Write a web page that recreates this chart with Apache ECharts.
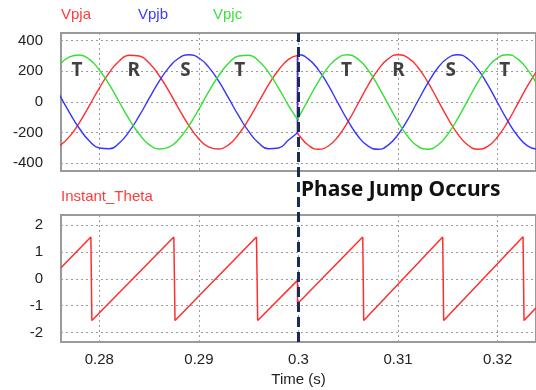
<!DOCTYPE html>
<html><head><meta charset="utf-8">
<script src="https://cdn.jsdelivr.net/npm/echarts@6/dist/echarts.min.js"></script>
<style>html,body{margin:0;padding:0;background:#fff}#c{width:536px;height:390px}</style>
</head><body><div id="c"></div>
<script>
// ---- data ----
const timesBefore = [0.276,0.277,0.278,0.279,0.280,0.281,0.282,0.283,0.284,0.285,0.286,0.287,0.288,0.289,0.290,0.291,0.292,0.293,0.294,0.295,0.296,0.297,0.298,0.299,0.2999];
const vpjaBefore = [-287,-226,-134,-23,91,192,267,305,300,254,173,69,-46,-154,-241,-294,-307,-278,-209,-113,0,113,209,278,304];
const vpjbBefore = [46,-69,-173,-254,-300,-305,-267,-192,-91,23,134,226,287,308,287,226,134,23,-91,-192,-267,-305,-300,-248,-200];
const vpjcBefore = [241,294,307,278,209,113,0,-113,-209,-278,-307,-294,-241,-154,-46,69,173,254,300,305,267,192,91,-23,-113];

const timesAfter = [0.2999,0.300,0.301,0.302,0.303,0.304,0.305,0.306,0.307,0.308,0.309,0.310,0.311,0.312,0.313,0.314,0.315,0.316,0.317,0.318,0.319,0.320,0.321,0.322,0.323,0.324];
const vpjaAfter = [-205,-214,-282,-308,-287,-223,-125,-8,110,211,281,308,288,225,128,11,-107,-209,-280,-308,-289,-227,-130,-14,105,207];
const vpjbAfter = [308,308,280,210,108,-11,-127,-225,-288,-308,-281,-212,-111,8,124,223,287,308,282,214,113,-5,-122,-220,-286,-308];
const vpjcAfter = [-113,-102,17,133,229,290,308,278,207,104,-14,-130,-227,-289,-308,-280,-209,-107,11,128,225,288,308,281,211,110];

const thetaTimes = [0.27615,0.27915,0.27925,0.28748,0.2876,0.29578,0.2959,0.2999,0.2999,0.30645,0.30655,0.31448,0.31458,0.32255,0.32265,0.32385];
const thetaValues = [0.41,1.55,-1.55,1.55,-1.55,1.55,-1.55,-0.06,-0.93,1.55,-1.55,1.55,-1.55,1.56,-1.55,-1.08];

const phaseLabelTimes = [0.27775,0.28345,0.28865,0.2941,0.30482,0.31005,0.3153,0.32072];
const phaseLabelTexts = ['T','R','S','T','T','R','S','T'];
const phaseLabelLevel = 205;

const jumpTime = 0.2998;
const xTicks = [0.28,0.29,0.30,0.31,0.32];
const vTicks = [-400,-200,0,200,400];
const thetaTicks = [-2,-1,0,1,2];
const xRange = [0.27615,0.32385];
const vRange = [-450,450];
const thetaRange = [-2.35,2.37];

// ---- chart ----
const FONT = '"Liberation Sans", Arial, sans-serif';
const RED = '#ff2e2e', BLUE = '#3434ff', GREEN = '#34e034';
const zip = (a,b) => a.map((v,i)=>[v,b[i]]);
const gridStyle = {show:true, borderColor:'#9a9a9a', borderWidth:2, left:61, right:-2};
const splitDotted = {show:true, lineStyle:{color:'#9c9c9c', type:[2,3], width:1}};

function vSeries(name, color, tb, vb, ta, va){
  const common = {type:'line', xAxisIndex:0, yAxisIndex:0, showSymbol:false, symbol:'none', silent:true,
    lineStyle:{color, width:1.4}, itemStyle:{color}};
  return [
    Object.assign({name, data:zip(tb,vb), smooth:0.5}, common),
    Object.assign({name, data:zip(ta,va), smooth:0.5}, common),
    Object.assign({name, data:[[tb[tb.length-1], vb[vb.length-1]],[ta[0], va[0]]]}, common)
  ];
}

const option = {
  animation:false,
  backgroundColor:'#fff',
  textStyle:{fontFamily:FONT},
  title:[
    {text:'Vpja', left:61, top:7, padding:0, textStyle:{color:'#ff3c3c', fontSize:15, fontWeight:'normal', fontFamily:FONT}},
    {text:'Vpjb', left:138, top:7, padding:0, textStyle:{color:'#3c3cff', fontSize:15, fontWeight:'normal', fontFamily:FONT}},
    {text:'Vpjc', left:213, top:7, padding:0, textStyle:{color:'#3ce03c', fontSize:15, fontWeight:'normal', fontFamily:FONT}},
    {text:'Instant_Theta', left:61, top:189, padding:0, textStyle:{color:'#ff3c3c', fontSize:15, fontWeight:'normal', fontFamily:FONT}},
    {text:'Phase Jump Occurs', left:301, top:180, padding:0, textStyle:{color:'#111', fontSize:21, fontWeight:'bold', fontFamily:'"Noto Sans", sans-serif'}}
  ],
  grid:[
    Object.assign({top:33, height:138}, gridStyle),
    Object.assign({top:215, height:127}, gridStyle),
    {show:false, left:61, right:-2, top:33, height:309}
  ],
  xAxis:[
    {type:'value', gridIndex:0, min:xRange[0], max:xRange[1], axisLine:{show:false},
     axisTick:{show:false, customValues:xTicks}, axisLabel:{show:false, customValues:xTicks}, splitLine:splitDotted},
    {type:'value', gridIndex:1, min:xRange[0], max:xRange[1], axisLine:{show:false},
     axisTick:{show:false, customValues:xTicks},
     axisLabel:{show:true, customValues:xTicks, margin:10, color:'#222', fontSize:15, fontFamily:FONT},
     splitLine:splitDotted,
     name:'Time (s)', nameLocation:'middle', nameGap:30, nameTextStyle:{color:'#222', fontSize:15, fontFamily:FONT}},
    {type:'value', gridIndex:2, min:xRange[0], max:xRange[1], show:false}
  ],
  yAxis:[
    {type:'value', gridIndex:0, min:vRange[0], max:vRange[1], axisLine:{show:false},
     axisTick:{show:false, customValues:vTicks},
     axisLabel:{customValues:vTicks, margin:18, color:'#222', fontSize:15, fontFamily:FONT},
     splitLine:splitDotted},
    {type:'value', gridIndex:1, min:thetaRange[0], max:thetaRange[1], axisLine:{show:false},
     axisTick:{show:false, customValues:thetaTicks},
     axisLabel:{customValues:thetaTicks, margin:18, color:'#222', fontSize:15, fontFamily:FONT},
     splitLine:splitDotted},
    {type:'value', gridIndex:2, min:0, max:1, show:false}
  ],
  series:[
    ...vSeries('Vpja', RED, timesBefore, vpjaBefore, timesAfter, vpjaAfter),
    ...vSeries('Vpjb', BLUE, timesBefore, vpjbBefore, timesAfter, vpjbAfter),
    ...vSeries('Vpjc', GREEN, timesBefore, vpjcBefore, timesAfter, vpjcAfter),
    {type:'scatter', xAxisIndex:0, yAxisIndex:0, symbolSize:0, silent:true,
     data:phaseLabelTimes.map((t,i)=>({value:[t, phaseLabelLevel], name:phaseLabelTexts[i]})),
     label:{show:true, position:'inside', formatter:p=>p.name, color:'#111', fontSize:19, fontWeight:'bold', fontFamily:'"Noto Sans", sans-serif'}},
    {name:'Instant_Theta', type:'line', xAxisIndex:1, yAxisIndex:1, data:zip(thetaTimes, thetaValues),
     showSymbol:false, symbol:'none', silent:true, lineStyle:{color:RED, width:1.5}},
    {type:'line', xAxisIndex:2, yAxisIndex:2, data:[[jumpTime,0.5]], showSymbol:false, symbol:'none', silent:true,
     lineStyle:{opacity:0}, z:10,
     markLine:{silent:true, symbol:['none','none'], label:{show:false}, animation:false,
       lineStyle:{color:'#1a2a5c', width:3, type:[10,5]}, data:[{xAxis:jumpTime}]}}
  ]
};
const chart = echarts.init(document.getElementById('c'));
chart.setOption(option);
</script></body></html>
